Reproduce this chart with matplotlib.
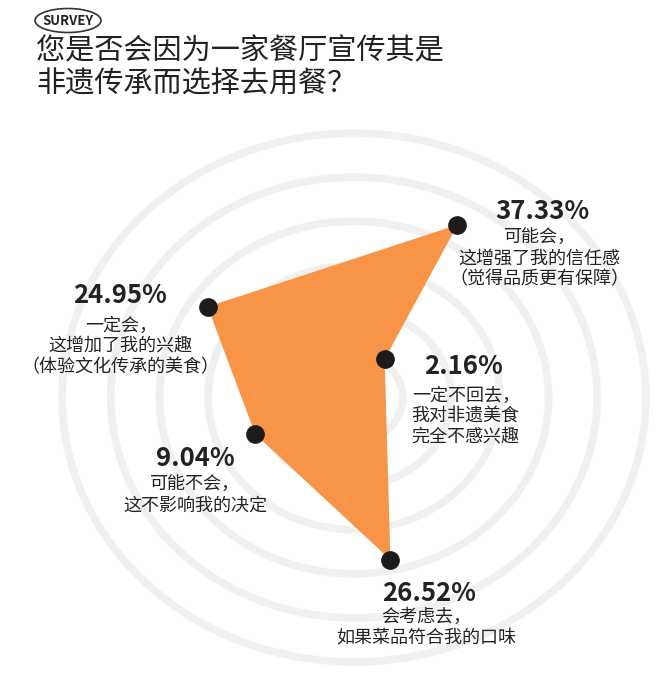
import numpy as np
import matplotlib
matplotlib.use("Agg")
import matplotlib.pyplot as plt
from matplotlib.patches import Ellipse

plt.rcParams['font.family'] = ['Noto Sans CJK SC', 'DejaVu Sans']

# data (order follows the polygon, counter-clockwise from the right)
answers = ['一定不回去', '可能会', '一定会', '可能不会', '会考虑去']
shares = [2.16, 37.33, 24.95, 9.04, 26.52]
notes = [
    '一定不回去，\n我对非遗美食\n完全不感兴趣',
    '可能会，\n这增强了我的信任感\n（觉得品质更有保障）',
    '一定会，\n这增加了我的兴趣\n（体验文化传承的美食）',
    '可能不会，\n这不影响我的决定',
    '会考虑去，\n如果菜品符合我的口味',
]
title = '您是否会因为一家餐厅宣传其是\n非遗传承而选择去用餐？'

# layout
angles_deg = [54, 61.5, 145.6, 202.2, 281.5]
# label offsets in pixels from the dot: percent (dx, dy), note (dx, dy)
pct_off = [(79, -15), (85, 6), (-88, 4), (-60, -32), (39, -41)]
note_off = [(81, -28), (82, -4), (-87, -10), (-60, -42), (36, -48)]

orange = '#f79448'
dark = '#1f1a1a'
ring_col = '#f0f0f0'

fig = plt.figure(figsize=(6.6, 6.81), dpi=100)
fig.patch.set_facecolor('white')

ax = fig.add_axes([0.0818, 0.0172, 0.9091, 0.7982], projection='polar')
ax.set_aspect('auto')
ax.set_rscale('function', functions=(lambda r: np.sqrt(np.clip(r, 0, None)),
                                     lambda r: np.square(r)))
r_edge = 8.45 ** 2
rings = (1.37 * np.arange(1, 7)) ** 2
ax.set_rlim(0, r_edge)
ax.set_rgrids(rings, labels=[''] * len(rings))
ax.set_xticks([])
ax.yaxis.grid(True, color=ring_col, linewidth=5.5)
ax.spines['polar'].set_visible(False)
ax.set_facecolor('none')

theta = np.deg2rad(angles_deg)
th_closed = np.append(theta, theta[0])
v_closed = np.append(shares, shares[0])
ax.fill(th_closed, v_closed, color=orange, zorder=3, linewidth=0)
ax.scatter(theta, shares, s=155, color=dark, zorder=4, clip_on=False)

for t, v, note, po, no in zip(theta, shares, notes, pct_off, note_off):
    ax.annotate(f'{v:.2f}%', xy=(t, v), xytext=po, textcoords='offset pixels',
                ha='center', va='baseline', fontsize=18.5, fontweight='bold',
                color='#222222', zorder=5, annotation_clip=False)
    ax.annotate(note, xy=(t, v), xytext=no, textcoords='offset pixels',
                ha='center', va='top', fontsize=13, color='#222222',
                linespacing=1.2, zorder=5, annotation_clip=False)

fig.text(36 / 660, 1 - 36 / 681, title, ha='left', va='top', fontsize=21,
         color='#222222', linespacing=1.15)

fig.text(68 / 660, 1 - 21 / 681, 'SURVEY', ha='center', va='center',
         fontsize=9.5, fontweight='bold', color='#222222')
fig.add_artist(Ellipse((68 / 660, 1 - 20.5 / 681), 66 / 660, 24 / 681,
                       transform=fig.transFigure, facecolor='none',
                       edgecolor='#333333', linewidth=1.2))

fig.savefig('out.png', dpi=100)
